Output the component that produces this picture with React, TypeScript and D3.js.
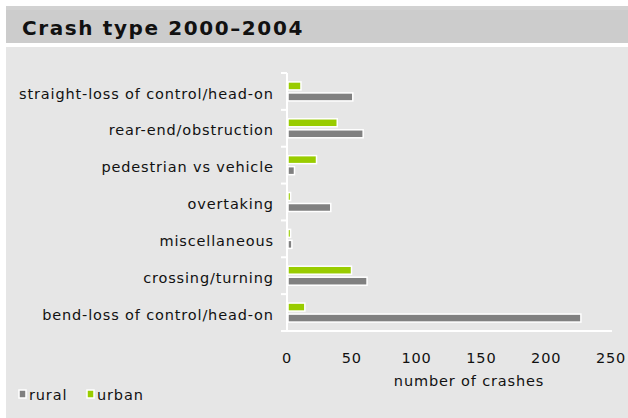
import React, { useEffect } from "react";
import * as d3 from "d3";

const categories = [
  "straight-loss of control/head-on",
  "rear-end/obstruction",
  "pedestrian vs vehicle",
  "overtaking",
  "miscellaneous",
  "crossing/turning",
  "bend-loss of control/head-on",
];
const urbanValues = [10, 38, 22, 2, 2, 49, 13];
const ruralValues = [50, 58, 5, 33, 3, 61, 226];
const xTicks = [0, 50, 100, 150, 200, 250];
const seriesNames = ["rural", "urban"];
const seriesColors = ["#808080", "#99cc00"];

const W = 628;
const H = 418;
const FONT = "'DejaVu Sans', Verdana, sans-serif";
const FS = 14.5;
const LS = 0.85;

export default function App() {
  useEffect(() => {
    document.body.style.margin = "0";
    document.body.style.overflow = "hidden";
  }, []);

  const x = d3.scaleLinear().domain([0, 250]).range([287, 611]);
  const y = d3.scaleBand<string>().domain(categories).range([73, 331]);
  const bh = y.bandwidth();
  const barH = 8;

  return (
    <svg
      width={W}
      height={H}
      style={{ position: "absolute", left: 0, top: 0, display: "block" }}
      fontFamily={FONT}
    >
      <rect x={0} y={0} width={W} height={H} fill="#ffffff" />
      {/* title bar */}
      <rect x={6} y={6} width={W - 6} height={37} fill="#cccccc" />
      <rect x={6} y={6} width={W - 6} height={4} fill="#d2d2d2" />
      <text
        x={22}
        y={34.5}
        fontSize={20}
        fontWeight="bold"
        letterSpacing={1.6}
        fill="#111"
      >
        Crash type 2000–2004
      </text>
      {/* panel */}
      <rect x={6} y={47} width={W - 6} height={H - 47} fill="#e6e6e6" />

      {/* y axis */}
      <line x1={287} x2={287} y1={73} y2={331} stroke="#fff" strokeWidth={2} />
      {categories.map((c, i) => (
        <line
          key={"t" + i}
          x1={281}
          x2={287}
          y1={y(c) as number}
          y2={y(c) as number}
          stroke="#fff"
          strokeWidth={2}
        />
      ))}
      <line x1={281} x2={287} y1={331} y2={331} stroke="#fff" strokeWidth={2} />
      {/* x axis line */}
      <line x1={287} x2={612} y1={331} y2={331} stroke="#fff" strokeWidth={2} />

      {categories.map((c, i) => {
        const y0 = y(c) as number;
        const cy = y0 + bh / 2;
        return (
          <g key={c}>
            <rect
              x={x(0) + 1}
              y={cy - 9.5}
              width={Math.max(0, x(urbanValues[i]) - x(0))}
              height={barH}
              fill={seriesColors[1]}
              stroke="#fff"
              strokeWidth={1.5}
            />
            <rect
              x={x(0) + 1}
              y={cy + 1.5}
              width={Math.max(0, x(ruralValues[i]) - x(0))}
              height={barH}
              fill={seriesColors[0]}
              stroke="#fff"
              strokeWidth={1.5}
            />
            <text
              x={273 + LS}
              y={cy + 2}
              dy="0.35em"
              textAnchor="end"
              fontSize={FS}
              letterSpacing={LS}
              fill="#111"
            >
              {c}
            </text>
          </g>
        );
      })}

      {xTicks.map((t) => (
        <text
          key={t}
          x={x(t)}
          y={358}
          dy="0.35em"
          textAnchor="middle"
          fontSize={FS}
          letterSpacing={LS}
          fill="#111"
        >
          {t}
        </text>
      ))}
      <text
        x={469}
        y={381}
        dy="0.35em"
        textAnchor="middle"
        fontSize={FS}
        letterSpacing={LS}
        fill="#111"
      >
        number of crashes
      </text>

      {/* legend */}
      {seriesNames.map((s, i) => {
        const lx = i === 0 ? 19 : 87;
        return (
          <g key={s}>
            <rect
              x={lx}
              y={390}
              width={7}
              height={8}
              fill={seriesColors[i]}
              stroke="#fff"
              strokeWidth={1.5}
            />
            <text
              x={lx + 10}
              y={395}
              dy="0.35em"
              fontSize={FS}
              letterSpacing={LS}
              fill="#111"
            >
              {s}
            </text>
          </g>
        );
      })}
    </svg>
  );
}
